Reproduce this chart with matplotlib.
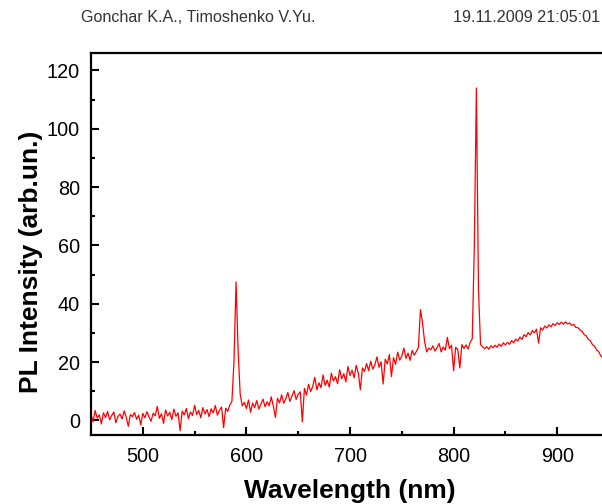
# PL spectrum, Gonchar / Timoshenko 19.11.2009
import numpy as np
import matplotlib
matplotlib.use("Agg")
import matplotlib.pyplot as plt

plt.rcParams['font.family'] = ['Liberation Sans', 'DejaVu Sans']

wl_start, wl_stop, wl_step = 450, 950, 2
intensity = [
    # 450 - 584
    2.1, -0.5, 3.4, 0.8, 1.9, -1.2, 2.6, 1.0, 3.1, 0.2,
    1.7, 2.9, -0.8, 1.4, 2.2, 0.5, 3.3, 1.1, -2.0, 2.0,
    1.3, 2.7, 0.4, 1.8, -1.5, 2.4, 0.9, 3.0, 1.2, -0.3,
    2.5, 1.6, 4.8, 0.7, 2.3, -1.0, 3.6, 1.5, 2.8, 0.3,
    3.9, 1.4, 2.6, -3.5, 3.2, 1.9, 4.1, 0.6, 2.9, 1.7,
    5.2, 2.0, 3.4, 0.9, 4.4, 2.2, 3.7, 1.3, 4.0, 2.6,
    5.1, 1.8, 3.5, 4.6, -2.5, 4.2, 3.1, 5.3,
    # 586 - 596, line near 590 nm
    6.5, 20.0, 47.5, 24.0, 9.0, 5.0,
    # 598 - 650
    6.2, 4.1, 7.0, 2.8, 5.9, 4.4, 6.8, 3.9, 5.6, 7.3,
    4.7, 6.4, 5.0, 8.1, 4.9, 1.0, 7.6, 6.0, 8.8, 5.9,
    7.4, 9.6, 6.5, 8.3, 10.2, 7.2, 9.0,
    # 652 - 700
    9.8, -0.5, 11.0, 8.7, 12.4, 9.9, 11.6, 14.8, 10.5, 12.9,
    11.2, 15.6, 12.0, 13.8, 11.4, 16.2, 13.5, 15.0, 12.6, 17.4,
    14.3, 16.0, 13.2, 18.5, 15.4,
    # 702 - 766
    17.2, 14.6, 18.9, 16.3, 10.5, 18.0, 16.8, 19.5, 17.1, 20.3,
    17.6, 19.0, 21.8, 18.2, 20.1, 12.5, 21.0, 19.4, 22.6, 15.0,
    21.5, 19.2, 23.4, 20.7, 22.0, 24.8, 21.3, 23.1, 20.6, 24.0,
    22.4, 23.6, 25.0,
    # 768 - 776, line near 770 nm
    38.0, 33.5, 27.0, 23.5, 24.8,
    # 778 - 818
    24.2, 25.6, 23.8, 24.9, 26.4, 23.5, 25.2, 24.1, 28.5, 24.6,
    25.8, 17.0, 25.1, 24.3, 18.0, 26.0, 24.7, 25.9, 24.5, 26.8, 28.0,
    # 820 - 830, strong line near 821 nm
    60.0, 114.0, 45.0, 26.0, 25.2, 24.6,
    # 832 - 950, broad band
    25.3, 24.4, 25.6, 24.9, 25.8, 25.1, 26.2, 25.4, 26.6, 25.9,
    26.8, 26.1, 27.4, 26.6, 27.9, 27.2, 28.6, 27.8, 29.4, 28.7,
    30.1, 29.3, 30.8, 30.0, 31.3, 26.5, 31.8, 31.0, 32.4, 31.7,
    32.8, 32.1, 33.2, 32.6, 33.5, 32.9, 33.7, 33.0, 33.8, 33.1,
    33.4, 32.6, 32.9, 31.9, 31.8, 31.0, 30.6, 29.4, 29.0, 27.8,
    27.3, 26.0, 25.5, 24.2, 23.6, 22.2, 21.5, 20.3, 19.6, 18.5,
]
wavelength = np.arange(wl_start, wl_stop + 1, wl_step)

x_ticks = [500, 600, 700, 800, 900]
y_ticks = [0, 20, 40, 60, 80, 100, 120]

fig = plt.figure(figsize=(6.02, 5.04), dpi=100)
ax = fig.add_axes([91 / 602, 1 - 435 / 504, (609 - 91) / 602, (435 - 53) / 504])

ax.plot(wavelength, intensity, color='#ff0000', lw=0.9)

ax.set_xlim(450, 950)
ax.set_ylim(-5, 126)
ax.set_xticks(x_ticks)
ax.set_yticks(y_ticks)
ax.set_xticks([550, 650, 750, 850], minor=True)
ax.set_yticks([10, 30, 50, 70, 90, 110], minor=True)
ax.tick_params(which='both', direction='in', width=1.5, labelsize=14.3, pad=8)
ax.tick_params(which='major', length=5.5)
ax.tick_params(which='minor', length=3)
ax.tick_params(axis='x', pad=9)

for s in ax.spines.values():
    s.set_linewidth(1.6)
ax.spines['right'].set_visible(False)

ax.set_xlabel('Wavelength (nm)', fontsize=19, fontweight='bold')
ax.set_ylabel('PL Intensity (arb.un.)', fontsize=19, fontweight='bold')
ax.xaxis.set_label_coords(0.5, -0.115)
ax.yaxis.set_label_coords(-0.093, 0.453)

fig.text(81 / 602, 1 - 18 / 504, 'Gonchar K.A., Timoshenko V.Yu.', fontsize=11.6,
         color='#333333', va='center', ha='left')
fig.text(600 / 602, 1 - 18 / 504, '19.11.2009 21:05:01', fontsize=11.6,
         color='#333333', va='center', ha='right')

fig.savefig('out.png', dpi=100)
